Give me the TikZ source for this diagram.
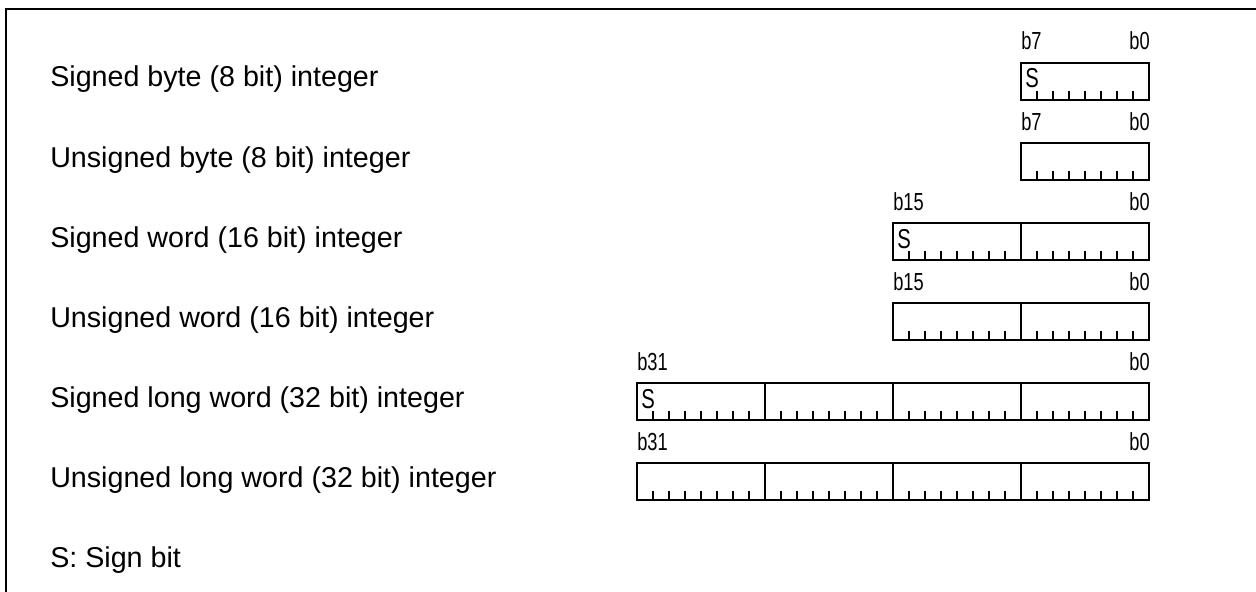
\documentclass[tikz,border=0pt]{standalone}
\usepackage{fontspec}
\setmainfont{Liberation Sans}
\newfontfamily\narrowfont[FakeStretch=0.74]{Liberation Sans}
\tikzset{
  frameline/.style={line width=2pt},
  regbox/.style={line width=2.1pt},
  sepline/.style={line width=0.9pt},
  tickline/.style={line width=0.85pt},
  rowlabel/.style={inner sep=0pt, anchor=base west, font=\fontsize{21.5}{25}\selectfont},
  bitlabel/.style={inner sep=0pt, font=\narrowfont\fontsize{18.5}{21}\selectfont},
  signlabel/.style={inner sep=0pt, anchor=base west, font=\narrowfont\fontsize{20.5}{23}\selectfont},
}
\begin{document}
\begin{tikzpicture}[x=0.75pt,y=-0.75pt]
\useasboundingbox (0,0) rectangle (1256,592);
\draw[frameline] (6,593) -- (6,9) -- (1257,9);
% row labels
\foreach \i/\txt in {0/{Signed byte (8 bit) integer},
                      1/{Unsigned byte (8 bit) integer},
                      2/{Signed word (16 bit) integer},
                      3/{Unsigned word (16 bit) integer},
                      4/{Signed long word (32 bit) integer},
                      5/{Unsigned long word (32 bit) integer},
                      6/{S: Sign bit}} {
  \node[rowlabel] (l\i) at (50,{87+80*\i}) {\txt};
}
% registers
\foreach \i/\n/\s/\hi in {0/1/1/7, 1/1/0/7, 2/2/1/15, 3/2/0/15, 4/4/1/31, 5/4/0/31} {
  \pgfmathsetmacro\ty{63+80*\i}
  \pgfmathsetmacro\by{\ty+37}
  \pgfmathsetmacro\lx{1149-128*\n}
  \pgfmathtruncatemacro\m{8*\n-1}
  \foreach \k in {1,...,\m} {
    \pgfmathtruncatemacro\r{mod(\k,8)}
    \ifnum\r=0
      \draw[sepline] ({\lx+16*\k},\ty) -- ({\lx+16*\k},\by);
    \else
      \draw[tickline] ({\lx+16*\k},\by) -- ({\lx+16*\k},{\by-9});
    \fi
  }
  \draw[regbox] (\lx,\ty) rectangle (1149,\by);
  \node[bitlabel, anchor=base west] (hi\i) at (\lx,{\ty-13}) {b\hi};
  \node[bitlabel, anchor=base east] (lo\i) at (1150,{\ty-13}) {b0};
  \ifnum\s=1
    \node[signlabel] (s\i) at ({\lx+4},{\ty+25}) {S};
  \fi
}
\end{tikzpicture}
\end{document}
